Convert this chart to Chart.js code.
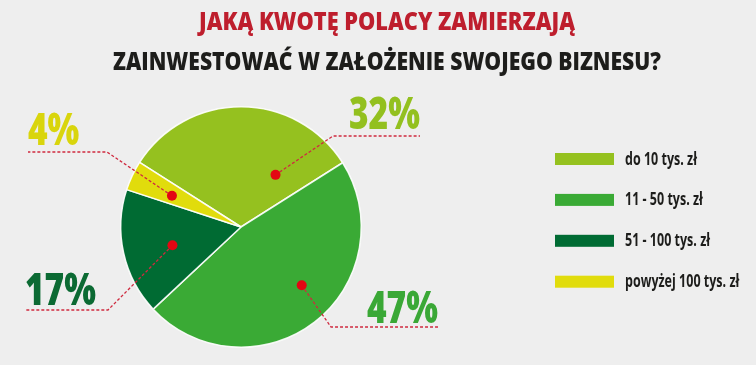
<!DOCTYPE html>
<html><head><meta charset="utf-8">
<script src="https://cdn.jsdelivr.net/npm/chart.js@4.4.0/dist/chart.umd.min.js"></script>
<style>
html,body{margin:0;padding:0;background:#eeeeee;}
#wrap{width:756px;height:365px;position:relative;overflow:hidden;}
canvas{display:block;}
</style></head><body>
<div id="wrap"><canvas id="c" width="756" height="365"></canvas></div>
<script>
// ---- data ----
const titleLine1 = 'JAKĄ KWOTĘ POLACY ZAMIERZAJĄ';
const titleLine2 = 'ZAINWESTOWAĆ W ZAŁOŻENIE SWOJEGO BIZNESU?';
const categories = ['do 10 tys. zł', '11 - 50 tys. zł', '51 - 100 tys. zł', 'powyżej 100 tys. zł'];
const shares = [32, 47, 17, 4];

// ---- styles ----
const sliceColors = ['#95c11f', '#3aaa35', '#006b33', '#e1dc0c'];
const labelColors = ['#93c01f', '#3aa836', '#0b6a33', '#d9d50c'];
const FONT = '"Open Sans", "Liberation Sans", Arial, sans-serif';

// callout placement: anchor inside slice (fraction of angle, fraction of radius),
// elbow / end of leader line relative to pie centre (px)
const callouts = [
  {t: 0.79, r: 0.52, elbow: [92, -91],   end: [179, -91],  align: 'right', dy: -7},
  {t: 0.45, r: 0.70, elbow: [90, 100],   end: [197, 100],  align: 'right', dy: -4},
  {t: 0.46, r: 0.59, elbow: [-133, 83],  end: [-216, 83],  align: 'left',  dy: -5},
  {t: 0.43, r: 0.63, elbow: [-134, -75], end: [-213, -75], align: 'left',  dy: -7}
];

function textWidth(ctx, text, font) {
  ctx.save();
  ctx.font = font;
  const w = ctx.measureText(text).width;
  ctx.restore();
  return w;
}

function condensedText(ctx, text, x, y, font, sx, align, color) {
  ctx.save();
  ctx.font = font;
  ctx.fillStyle = color;
  ctx.textAlign = align;
  ctx.textBaseline = 'alphabetic';
  ctx.translate(x, y);
  ctx.scale(sx, 1);
  ctx.fillText(text, 0, 0);
  ctx.restore();
}

const headerPlugin = {
  id: 'header',
  afterDraw(chart) {
    const ctx = chart.ctx;
    const f = '800 25px ' + FONT;
    const w1 = textWidth(ctx, titleLine1, f);
    const w2 = textWidth(ctx, titleLine2, f);
    condensedText(ctx, titleLine1, 387, 30, f, 376 / w1, 'center', '#be1e2d');
    condensedText(ctx, titleLine2, 387, 69.5, f, 548 / w2, 'center', '#1d1d1b');
  }
};

const legendPlugin = {
  id: 'sideLegend',
  afterDraw(chart) {
    const ctx = chart.ctx;
    let items = chart.legend && chart.legend.legendItems;
    if (!items || !items.length) {
      items = Chart.overrides.doughnut.plugins.legend.labels.generateLabels(chart);
    }
    const f = '700 17px ' + FONT;
    const sx = 72 / textWidth(ctx, items[0].text, f);
    const x0 = 555, boxW = 59, boxH = 12, y0 = 159, step = 40.9;
    items.forEach((it, i) => {
      const cy = y0 + i * step;
      ctx.save();
      ctx.fillStyle = it.fillStyle;
      ctx.fillRect(x0, cy - boxH / 2, boxW, boxH);
      ctx.restore();
      condensedText(ctx, it.text, 625, cy + 5.5, f, sx, 'left', '#1d1d1b');
    });
  }
};

const calloutPlugin = {
  id: 'callouts',
  afterDatasetsDraw(chart) {
    const ctx = chart.ctx;
    const meta = chart.getDatasetMeta(0);
    const ds = chart.data.datasets[0];
    const f = '800 44px ' + FONT;
    const sx = 71 / textWidth(ctx, '47%', f);
    meta.data.forEach((arc, i) => {
      const p = arc.getProps(['x', 'y', 'startAngle', 'endAngle', 'outerRadius'], true);
      const c = callouts[i];
      const a = p.startAngle + c.t * (p.endAngle - p.startAngle);
      const dx = p.x + Math.cos(a) * p.outerRadius * c.r;
      const dy = p.y + Math.sin(a) * p.outerRadius * c.r;
      const ex = p.x + c.elbow[0], ey = p.y + c.elbow[1];
      const fx = p.x + c.end[0], fy = p.y + c.end[1];
      ctx.save();
      ctx.strokeStyle = '#cf2a3f';
      ctx.lineWidth = 1.3;
      ctx.setLineDash([3, 2]);
      ctx.beginPath();
      ctx.moveTo(dx, dy);
      ctx.lineTo(ex, ey);
      ctx.lineTo(fx, fy);
      ctx.stroke();
      ctx.setLineDash([]);
      ctx.fillStyle = '#e30613';
      ctx.beginPath();
      ctx.arc(dx, dy, 5, 0, Math.PI * 2);
      ctx.fill();
      ctx.restore();
      condensedText(ctx, ds.data[i] + '%', fx, fy + c.dy, f, sx, c.align, labelColors[i]);
    });
  }
};

new Chart(document.getElementById('c'), {
  type: 'pie',
  data: {
    labels: categories,
    datasets: [{
      data: shares,
      backgroundColor: sliceColors,
      borderColor: 'rgba(255,255,255,0.9)',
      borderWidth: 1.5
    }]
  },
  options: {
    responsive: false,
    animation: false,
    events: [],
    rotation: 302.5,
    layout: {padding: {left: 120, right: 394, top: 106, bottom: 17}},
    plugins: {
      legend: {display: false},
      title: {display: false},
      tooltip: {enabled: false}
    }
  },
  plugins: [headerPlugin, legendPlugin, calloutPlugin]
});
</script>
</body></html>
